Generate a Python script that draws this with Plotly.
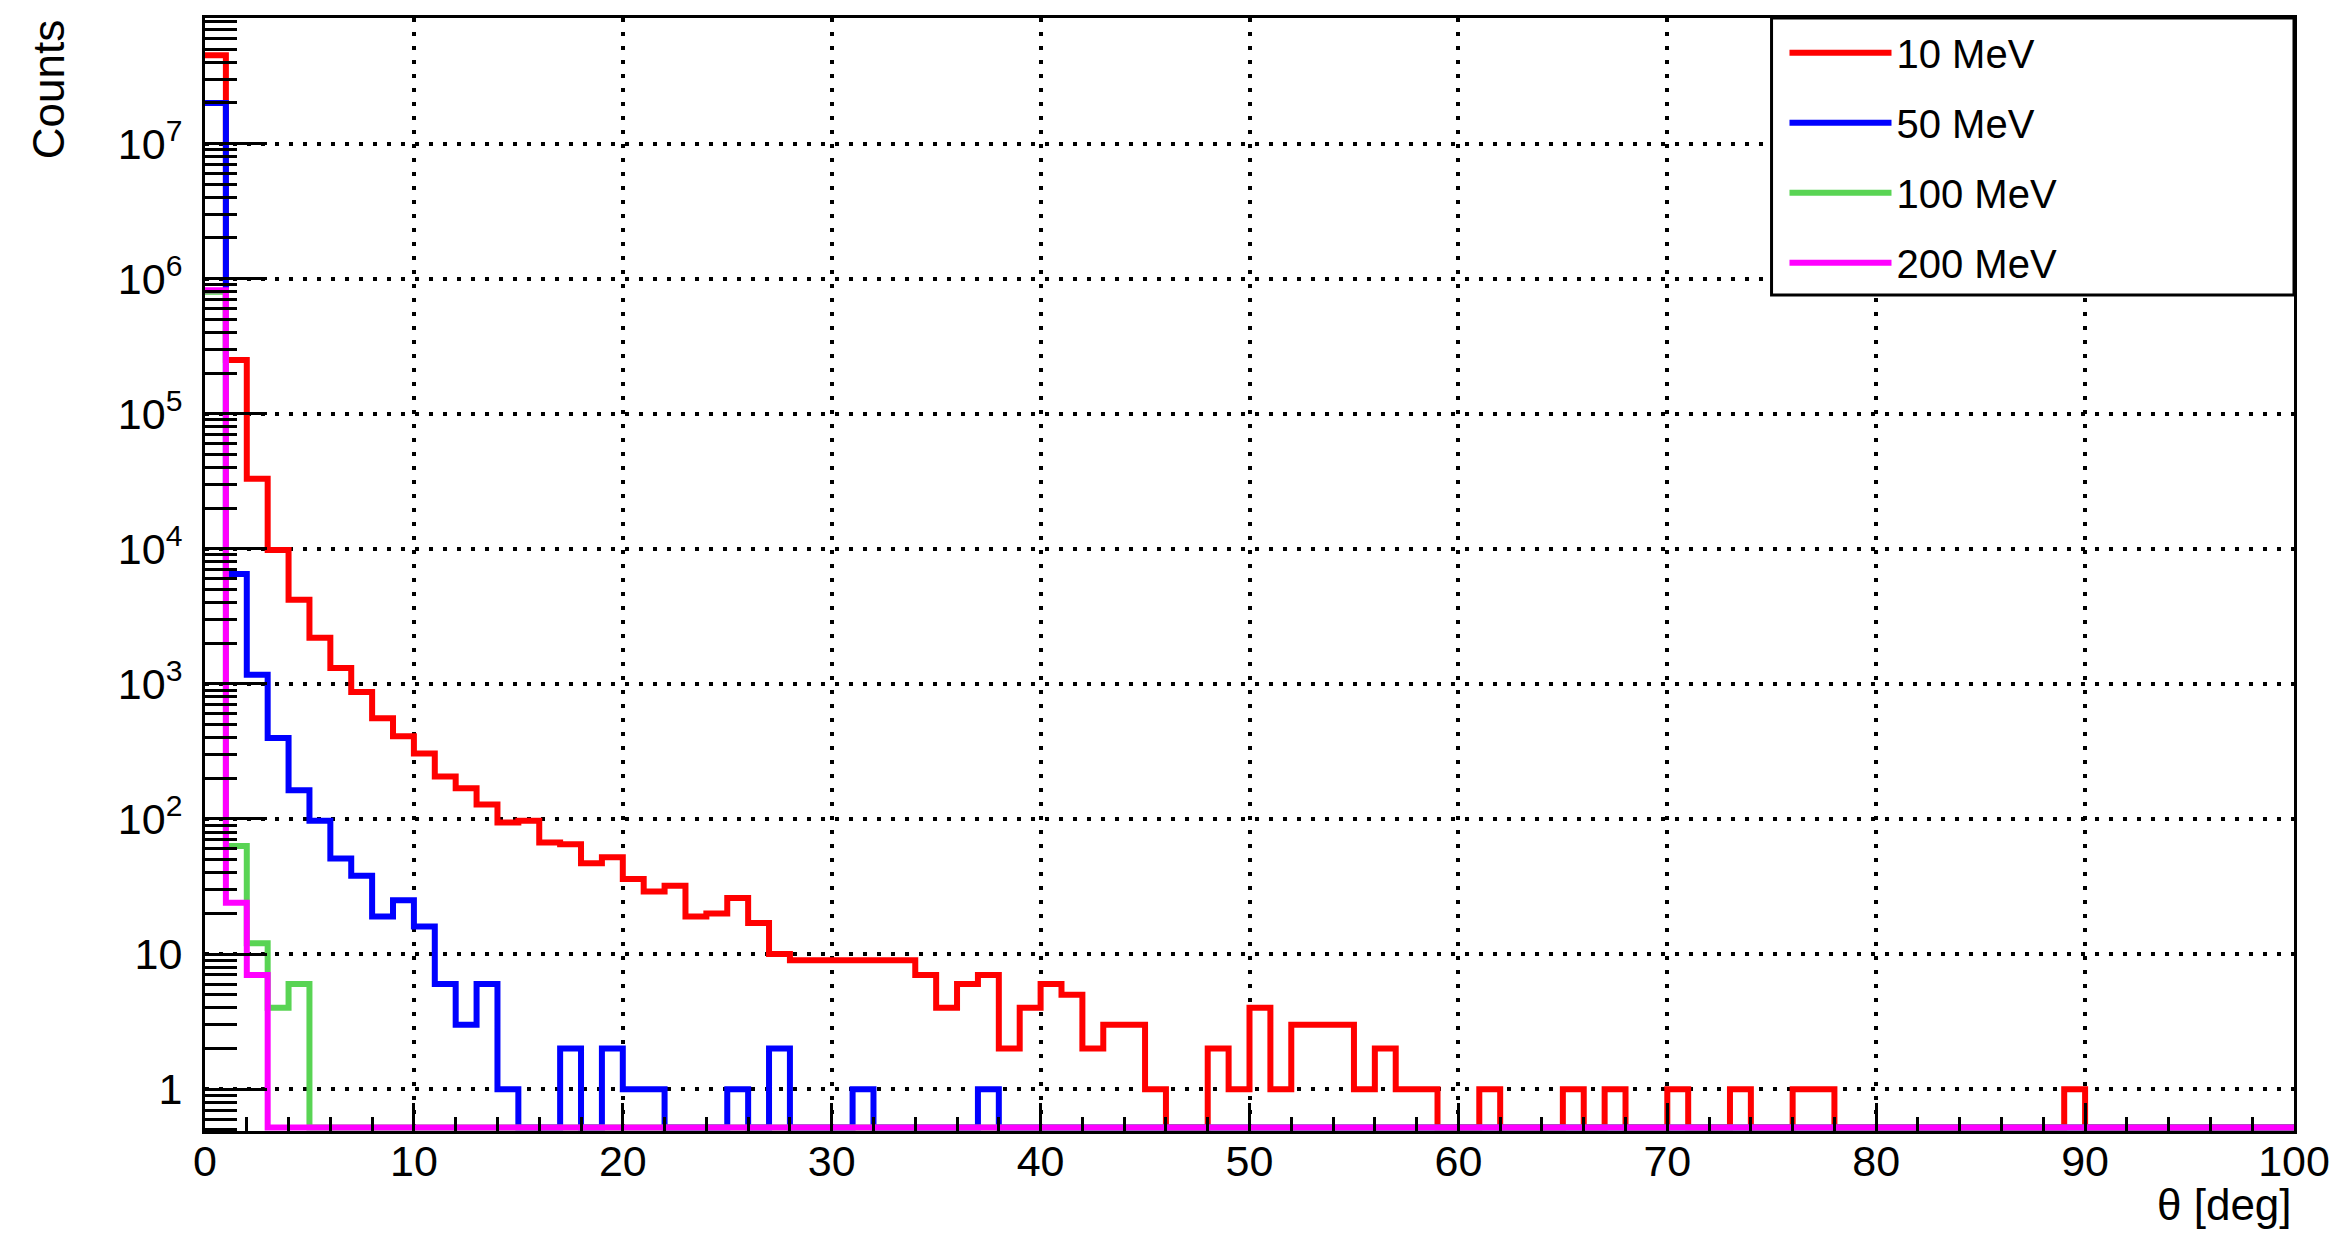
import numpy as np
import plotly.graph_objects as go

# theta bins: 1 degree wide, 0..100 deg
bin_edges = list(range(0, 101))

# counts per bin (bins 0..99)
counts_10MeV = [4.5e7, 2.5e5, 3.3e4, 9.8e3, 4.2e3, 2.2e3, 1.31e3, 870, 556, 410,
                305, 206, 169, 128, 94, 97, 67, 65, 47, 52,
                36, 29, 32, 19, 20, 26, 17, 10, 9, 9,
                9, 9, 9, 9, 7, 4, 6, 7, 2, 4,
                6, 5, 2, 3, 3, 1, 0, 0, 2, 1,
                4, 1, 3, 3, 3, 1, 2, 1, 1, 0,
                0, 1, 0, 0, 0, 1, 0, 1, 0, 0,
                1, 0, 0, 1, 0, 0, 1, 1, 0, 0,
                0, 0, 0, 0, 0, 0, 0, 0, 0, 1,
                0, 0, 0, 0, 0, 0, 0, 0, 0, 0]
counts_50MeV = [2.0e7, 6.5e3, 1.17e3, 397, 163, 97, 51, 38, 19, 25,
                16, 6, 3, 6, 1, 0, 0, 2, 0, 2,
                1, 1, 0, 0, 0, 1, 0, 2, 0, 0,
                0, 1, 0, 0, 0, 0, 0, 1, 0, 0] + [0] * 60
counts_100MeV = [8.0e5, 63, 12, 4, 6] + [0] * 95
counts_200MeV = [8.2e5, 24, 7] + [0] * 97

series_names = ["10 MeV", "50 MeV", "100 MeV", "200 MeV"]
series_colors = ["#ff0000", "#0000ff", "#59d454", "#ff00ff"]
series_counts = [counts_10MeV, counts_50MeV, counts_100MeV, counts_200MeV]

x_tick_vals = list(range(0, 101, 10))
y_tick_vals = [1, 10, 100, 1e3, 1e4, 1e5, 1e6, 1e7]
y_tick_text = ["1", "10", "10<sup>2</sup>", "10<sup>3</sup>", "10<sup>4</sup>",
               "10<sup>5</sup>", "10<sup>6</sup>", "10<sup>7</sup>"]
y_minor_vals = [k * 10.0 ** d for d in range(-1, 8) for k in range(2, 10)]

Y_MIN = 0.49     # bottom of the log axis
Y_MAX = 8.5e7    # top of the log axis
Y_FLOOR = 0.52   # empty bins are drawn along the bottom of the frame

FONT = "Liberation Sans, Arial, sans-serif"
GRID_DASH = "4px,10px"

fig = go.Figure()
for name, color, counts in zip(series_names, series_colors, series_counts):
    y = np.maximum(np.array(counts, dtype=float), Y_FLOOR)
    y = np.append(y, y[-1])
    fig.add_trace(go.Scatter(
        x=bin_edges, y=y, mode="lines", name=name, legendgroup=name,
        line=dict(color=color, width=6, shape="hv"),
    ))

axis_common = dict(
    showline=True, linecolor="black", linewidth=3, mirror=True,
    showgrid=True, gridcolor="black", gridwidth=4, griddash=GRID_DASH,
    zeroline=False, tickfont=dict(family=FONT, size=43, color="black"),
    ticks="inside", tickcolor="black", tickwidth=3,
)

fig.update_xaxes(
    **axis_common, range=[0, 100], tickmode="array", tickvals=x_tick_vals,
    ticklen=28, ticklabelstandoff=-10,
    minor=dict(ticks="inside", ticklen=14, tickwidth=3, tickcolor="black",
               dtick=2, tick0=0, showgrid=False),
)
fig.update_yaxes(
    **axis_common, type="log", range=[np.log10(Y_MIN), np.log10(Y_MAX)],
    tickmode="array", tickvals=y_tick_vals, ticktext=y_tick_text,
    ticklen=62, ticklabelstandoff=11,
    minor=dict(ticks="inside", ticklen=32, tickwidth=3, tickcolor="black",
               tickmode="array", tickvals=y_minor_vals, showgrid=False),
)

fig.add_annotation(text="Counts", textangle=-90, xref="paper", yref="paper",
                   x=-0.0748, y=1.0, xanchor="center", yanchor="top",
                   showarrow=False, font=dict(family=FONT, size=44, color="black"))
fig.add_annotation(text="θ [deg]", xref="paper", yref="paper",
                   x=1.0, y=-0.066, xanchor="right", yanchor="middle",
                   showarrow=False, font=dict(family=FONT, size=44, color="black"))

# legend frame (ROOT-style box in the upper right corner)
fig.add_shape(type="rect", xref="paper", yref="paper",
              x0=0.7499, x1=1.0, y0=0.7511, y1=1.0, layer="above",
              fillcolor="white", line=dict(color="black", width=3))

fig.update_layout(
    width=2342, height=1235,
    margin=dict(l=205, r=44, t=18, b=104),
    plot_bgcolor="white", paper_bgcolor="white",
    showlegend=True,
    legend=dict(x=0.7561, y=0.998, xanchor="left", yanchor="top",
                bgcolor="rgba(0,0,0,0)", borderwidth=0,
                font=dict(family=FONT, size=40, color="black"),
                tracegroupgap=15, itemwidth=102),
)

fig.write_html("out.html")
